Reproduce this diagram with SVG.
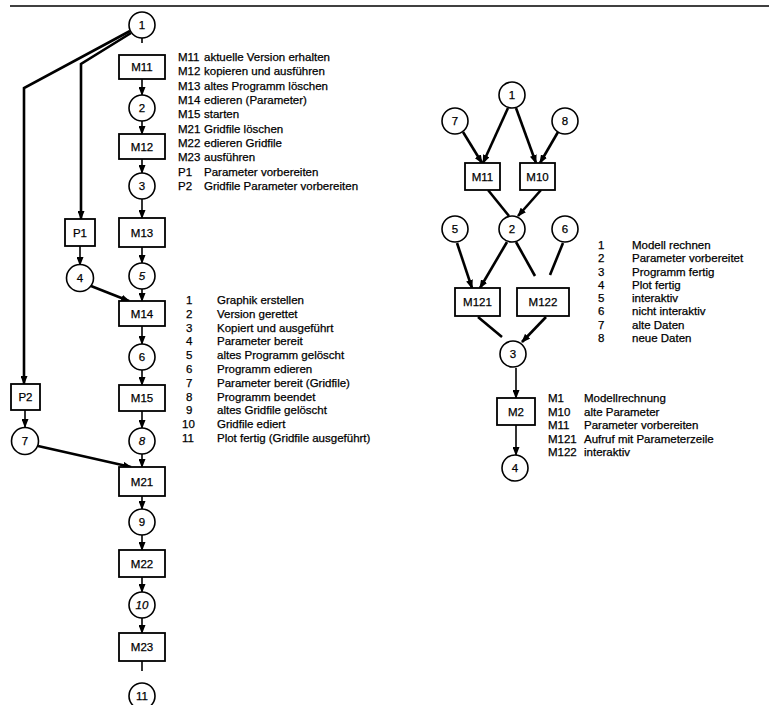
<svg xmlns="http://www.w3.org/2000/svg" width="769" height="705" viewBox="0 0 769 705">
<defs>
<marker id="ah" markerUnits="userSpaceOnUse" markerWidth="9" markerHeight="7" refX="8" refY="3.5" orient="auto">
<path d="M0,0 L9,3.5 L0,7 z" fill="#000"/>
</marker>
</defs>
<style>
text{font-family:"Liberation Sans",Arial,sans-serif;font-size:11.5px;fill:#000;stroke:#000;stroke-width:0.25}
.n{text-anchor:middle;dominant-baseline:central}
.i{font-style:italic}
.b{fill:#fff;stroke:#000;stroke-width:1.8}
.c{fill:#fff;stroke:#000;stroke-width:1.6}
.l{fill:none;stroke:#000;stroke-width:1.6}
.t{fill:none;stroke:#000;stroke-width:2.6}
.a{marker-end:url(#ah)}
</style>
<rect width="769" height="705" fill="#fff"/>
<line x1="10" y1="6" x2="769" y2="6" stroke="#000" stroke-width="1.6"/>

<g id="connectors">
<line class="l" x1="142" y1="38" x2="142" y2="43"/>
<line class="l a" x1="142" y1="79" x2="142" y2="95"/>
<line class="l a" x1="142" y1="121" x2="142" y2="134"/>
<line class="l a" x1="142" y1="159" x2="142" y2="173"/>
<line class="l a" x1="142" y1="199" x2="142" y2="218"/>
<line class="l a" x1="142" y1="247" x2="142" y2="263"/>
<line class="l a" x1="142" y1="289" x2="142" y2="301"/>
<line class="l a" x1="142" y1="326" x2="142" y2="344"/>
<line class="l a" x1="142" y1="370" x2="142" y2="385"/>
<line class="l a" x1="142" y1="411" x2="142" y2="428"/>
<line class="l a" x1="142" y1="454" x2="142" y2="467"/>
<line class="l a" x1="142" y1="496" x2="142" y2="509"/>
<line class="l a" x1="142" y1="535" x2="142" y2="550"/>
<line class="l a" x1="142" y1="577" x2="142" y2="592"/>
<line class="l a" x1="142" y1="618" x2="142" y2="633"/>
<line class="l" x1="142" y1="661" x2="142" y2="671"/>
<polyline class="t a" points="131,33 81,64 81,219"/>
<polyline class="t a" points="130,31 24,88 24,384"/>
<line class="l a" x1="80" y1="246" x2="80" y2="265"/>
<line class="l a" x1="25" y1="410" x2="25" y2="427"/>
<line class="t a" x1="91" y1="286" x2="129" y2="301"/>
<line class="t a" x1="38" y1="446" x2="131" y2="467"/>

<line class="t a" x1="508" y1="108" x2="483" y2="163"/>
<line class="t a" x1="516" y1="108" x2="536" y2="163"/>
<line class="t a" x1="463" y1="132" x2="482" y2="163"/>
<line class="t a" x1="558" y1="132" x2="540" y2="163"/>
<line class="t" x1="488" y1="190" x2="509" y2="216"/>
<line class="t a" x1="541" y1="190" x2="518" y2="216"/>
<line class="t a" x1="457" y1="243" x2="472" y2="288"/>
<line class="t a" x1="507" y1="242" x2="480" y2="288"/>
<line class="t" x1="516" y1="242" x2="535" y2="276"/>
<line class="t" x1="563" y1="243" x2="550" y2="275"/>
<line class="t" x1="478" y1="317" x2="502" y2="337"/>
<line class="t a" x1="546" y1="317" x2="522" y2="342"/>
<line class="l a" x1="516" y1="368" x2="516" y2="398"/>
<line class="l a" x1="516" y1="425" x2="516" y2="455"/>
</g>

<g id="n_c1"><circle class="c" cx="142" cy="25" r="13"/><text class="n" x="142" y="25">1</text></g>
<g id="n_M11"><rect class="b" x="119" y="55" width="46" height="24"/><text class="n" x="142" y="67">M11</text></g>
<g id="n_c2"><circle class="c" cx="142" cy="108" r="13"/><text class="n" x="142" y="108">2</text></g>
<g id="n_M12"><rect class="b" x="119" y="134" width="46" height="25"/><text class="n" x="142" y="146.5">M12</text></g>
<g id="n_c3"><circle class="c" cx="142" cy="186" r="13"/><text class="n" x="142" y="186">3</text></g>
<g id="n_M13"><rect class="b" x="119" y="218" width="46" height="29"/><text class="n" x="142" y="232.5">M13</text></g>
<g id="n_P1"><rect class="b" x="65" y="219" width="30" height="27"/><text class="n" x="80" y="232.5">P1</text></g>
<g id="n_c4"><circle class="c" cx="80" cy="278" r="13.5"/><text class="n" x="80" y="278">4</text></g>
<g id="n_c5"><circle class="c" cx="142" cy="276" r="13"/><text class="n i" x="142" y="276">5</text></g>
<g id="n_M14"><rect class="b" x="119" y="301" width="46" height="25"/><text class="n" x="142" y="313.5">M14</text></g>
<g id="n_c6"><circle class="c" cx="142" cy="357" r="13"/><text class="n" x="142" y="357">6</text></g>
<g id="n_M15"><rect class="b" x="119" y="385" width="46" height="26"/><text class="n" x="142" y="398">M15</text></g>
<g id="n_P2"><rect class="b" x="11" y="384" width="29" height="26"/><text class="n" x="25.5" y="397">P2</text></g>
<g id="n_c7"><circle class="c" cx="25" cy="441" r="13.5"/><text class="n" x="25" y="441">7</text></g>
<g id="n_c8"><circle class="c" cx="142" cy="441" r="13"/><text class="n i" x="142" y="441">8</text></g>
<g id="n_M21"><rect class="b" x="119" y="467" width="46" height="29"/><text class="n" x="142" y="481.5">M21</text></g>
<g id="n_c9"><circle class="c" cx="142" cy="522" r="13"/><text class="n" x="142" y="522">9</text></g>
<g id="n_M22"><rect class="b" x="119" y="550" width="46" height="27"/><text class="n" x="142" y="563.5">M22</text></g>
<g id="n_c10"><circle class="c" cx="142" cy="605" r="13"/><text class="n i" x="142" y="605">10</text></g>
<g id="n_M23"><rect class="b" x="119" y="633" width="46" height="28"/><text class="n" x="142" y="647">M23</text></g>
<g id="n_c11"><circle class="c" cx="142" cy="696" r="13"/><text class="n" x="142" y="696">11</text></g>

<g id="legend1">
<text x="178" y="61">M11</text><text x="204" y="61">aktuelle Version erhalten</text>
<text x="178" y="75.3">M12</text><text x="204" y="75.3">kopieren und ausführen</text>
<text x="178" y="89.7">M13</text><text x="204" y="89.7">altes Programm löschen</text>
<text x="178" y="104">M14</text><text x="204" y="104">edieren (Parameter)</text>
<text x="178" y="118.3">M15</text><text x="204" y="118.3">starten</text>
<text x="178" y="132.7">M21</text><text x="204" y="132.7">Gridfile löschen</text>
<text x="178" y="147">M22</text><text x="204" y="147">edieren Gridfile</text>
<text x="178" y="161.3">M23</text><text x="204" y="161.3">ausführen</text>
<text x="178" y="175.7">P1</text><text x="204" y="175.7">Parameter vorbereiten</text>
<text x="178" y="190">P2</text><text x="204" y="190">Gridfile Parameter vorbereiten</text>
</g>

<g id="legend2">
<text x="186" y="304">1</text><text x="217" y="304">Graphik erstellen</text>
<text x="186" y="317.8">2</text><text x="217" y="317.8">Version gerettet</text>
<text x="186" y="331.6">3</text><text x="217" y="331.6">Kopiert und ausgeführt</text>
<text x="186" y="345.4">4</text><text x="217" y="345.4">Parameter bereit</text>
<text x="186" y="359.2">5</text><text x="217" y="359.2">altes Programm gelöscht</text>
<text x="186" y="373">6</text><text x="217" y="373">Programm edieren</text>
<text x="186" y="386.8">7</text><text x="217" y="386.8">Parameter bereit (Gridfile)</text>
<text x="186" y="400.6">8</text><text x="217" y="400.6">Programm beendet</text>
<text x="186" y="414.4">9</text><text x="217" y="414.4">altes Gridfile gelöscht</text>
<text x="182" y="428.2">10</text><text x="217" y="428.2">Gridfile ediert</text>
<text x="182" y="442">11</text><text x="217" y="442">Plot fertig (Gridfile ausgeführt)</text>
</g>

<g id="r_c1"><circle class="c" cx="512" cy="95" r="13"/><text class="n" x="512" y="95">1</text></g>
<g id="r_c7"><circle class="c" cx="455" cy="121" r="13"/><text class="n" x="455" y="121">7</text></g>
<g id="r_c8"><circle class="c" cx="565" cy="121" r="13"/><text class="n" x="565" y="121">8</text></g>
<g id="r_M11"><rect class="b" x="465" y="163" width="35" height="27"/><text class="n" x="482.5" y="176.5">M11</text></g>
<g id="r_M10"><rect class="b" x="520" y="163" width="35" height="27"/><text class="n" x="537.5" y="176.5">M10</text></g>
<g id="r_c5"><circle class="c" cx="455" cy="229" r="13"/><text class="n" x="455" y="229">5</text></g>
<g id="r_c2"><circle class="c" cx="512" cy="229" r="13"/><text class="n" x="512" y="229">2</text></g>
<g id="r_c6"><circle class="c" cx="565" cy="229" r="13"/><text class="n" x="565" y="229">6</text></g>
<g id="r_M121"><rect class="b" x="455" y="288" width="45" height="28"/><text class="n" x="477.5" y="302">M121</text></g>
<g id="r_M122"><rect class="b" x="517" y="288" width="52" height="28"/><text class="n" x="543" y="302">M122</text></g>
<g id="r_c3"><circle class="c" cx="513" cy="354" r="13"/><text class="n" x="513" y="354">3</text></g>
<g id="r_M2"><rect class="b" x="497" y="398" width="38" height="27"/><text class="n" x="516" y="411.5">M2</text></g>
<g id="r_c4"><circle class="c" cx="515" cy="468" r="13"/><text class="n" x="515" y="468">4</text></g>

<g id="legend3">
<text x="598" y="249">1</text><text x="632" y="249">Modell rechnen</text>
<text x="598" y="262.3">2</text><text x="632" y="262.3">Parameter vorbereitet</text>
<text x="598" y="275.6">3</text><text x="632" y="275.6">Programm fertig</text>
<text x="598" y="288.9">4</text><text x="632" y="288.9">Plot fertig</text>
<text x="598" y="302.1">5</text><text x="632" y="302.1">interaktiv</text>
<text x="598" y="315.4">6</text><text x="632" y="315.4">nicht interaktiv</text>
<text x="598" y="328.7">7</text><text x="632" y="328.7">alte Daten</text>
<text x="598" y="342">8</text><text x="632" y="342">neue Daten</text>
</g>

<g id="legend4">
<text x="548" y="402">M1</text><text x="584" y="402">Modellrechnung</text>
<text x="548" y="415.5">M10</text><text x="584" y="415.5">alte Parameter</text>
<text x="548" y="429">M11</text><text x="584" y="429">Parameter vorbereiten</text>
<text x="548" y="442.5">M121</text><text x="584" y="442.5">Aufruf mit Parameterzeile</text>
<text x="548" y="456">M122</text><text x="584" y="456">interaktiv</text>
</g>
</svg>
